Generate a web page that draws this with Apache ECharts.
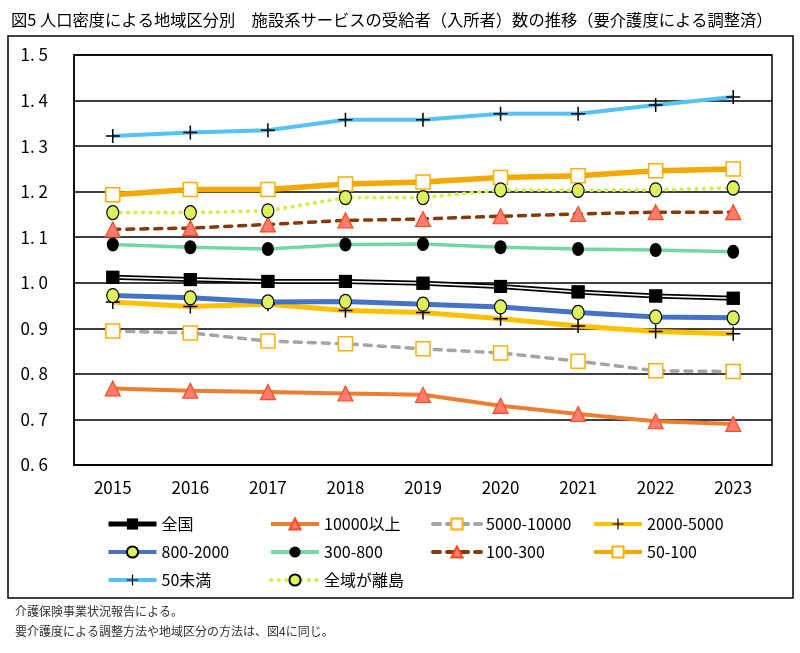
<!DOCTYPE html>
<html lang="ja">
<head>
    <meta charset="utf-8">
    <meta name="viewport" content="width=device-width, initial-scale=1"/>
    <style>
        html, body { margin: 0; padding: 0; background: #fff; }
        #chart { width: 800px; height: 653px; }
    </style>
</head>
<body>
<div id="chart"></div>
<script type="text/javascript" src="https://cdn.jsdelivr.net/npm/echarts@6/dist/echarts.min.js"></script>
<script type="text/javascript">
    // 年
    var years = ['2015', '2016', '2017', '2018', '2019', '2020', '2021', '2022', '2023'];

    // 人口密度区分ごとの受給者数（全国平均=1 相当、図から読み取り）
    var zenkoku   = [1.012, 1.007, 1.003, 1.003, 0.999, 0.992, 0.980, 0.971, 0.966];
    var d10000    = [0.768, 0.763, 0.760, 0.757, 0.754, 0.730, 0.712, 0.696, 0.690];
    var d5000     = [0.894, 0.890, 0.872, 0.866, 0.855, 0.846, 0.828, 0.807, 0.805];
    var d2000     = [0.958, 0.948, 0.953, 0.939, 0.935, 0.921, 0.905, 0.893, 0.888];
    var d800      = [0.972, 0.967, 0.958, 0.959, 0.953, 0.947, 0.935, 0.925, 0.923];
    var d300      = [1.084, 1.078, 1.074, 1.084, 1.085, 1.078, 1.074, 1.072, 1.068];
    var d100      = [1.117, 1.120, 1.128, 1.137, 1.140, 1.146, 1.151, 1.155, 1.155];
    var d50       = [1.193, 1.205, 1.205, 1.217, 1.221, 1.231, 1.235, 1.246, 1.250];
    var dUnder50  = [1.322, 1.330, 1.335, 1.358, 1.358, 1.371, 1.371, 1.390, 1.408];
    var ritou     = [1.154, 1.154, 1.158, 1.187, 1.187, 1.204, 1.203, 1.204, 1.208];

    var yTicks = { min: 0.6, max: 1.5, interval: 0.1 };

    var FONT = 'Noto Sans CJK JP';
    var PLUS = 'path://M6.25,0h1.5v6.25h6.25v1.5h-6.25v6.25h-1.5v-6.25h-6.25v-1.5h6.25z';

    function lineSeries(name, data, color, width, type, symbol, size, fill, border, borderWidth) {
        return {
            name: name,
            type: 'line',
            data: data,
            symbol: symbol,
            symbolSize: size,
            showAllSymbol: true,
            lineStyle: { color: color, width: width, type: type, cap: type === 'solid' ? 'butt' : 'round' },
            itemStyle: { color: fill, borderColor: border, borderWidth: borderWidth },
            emphasis: { disabled: true },
            animation: false
        };
    }

    var series = [
        lineSeries('全国', zenkoku, '#000', 5, 'solid', 'rect', 13, '#000', '#000', 0),
        lineSeries('全国_inner', zenkoku, '#fff', 1.5, 'solid', 'rect', 13, '#000', '#000', 0),
        lineSeries('10000以上', d10000, '#ED7D31', 4, 'solid', 'triangle', 15, '#FF7C70', '#FF4A1C', 1.2),
        lineSeries('5000-10000', d5000, '#A5A5A5', 3.5, [7, 7], 'rect', 14, '#fff', '#FFB000', 1.5),
        lineSeries('2000-5000', d2000, '#FFC000', 5, 'solid', PLUS, 14, '#000', '#000', 0),
        lineSeries('800-2000', d800, '#4472C4', 5, 'solid', 'circle', [12, 14], '#DDF25C', '#000', 1.2),
        lineSeries('300-800', d300, '#73D7A4', 3.5, 'solid', 'circle', [12, 14], '#000', '#000', 0),
        lineSeries('100-300', d100, '#843C0C', 3.5, [7, 7], 'triangle', 15, '#FF7C70', '#FF4A1C', 1.2),
        lineSeries('50-100', d50, '#F5A800', 5.5, 'solid', 'rect', 14, '#fff', '#FFB000', 1.5),
        lineSeries('50未満', dUnder50, '#55C1F5', 4, 'solid', PLUS, 14, '#000', '#000', 0),
        lineSeries('全域が離島', ritou, '#D4F04E', 4, [0.5, 7], 'circle', [12, 14], '#DDF25C', '#000', 1.2)
    ];

    function legendCol(left, names) {
        return {
            orient: 'vertical',
            left: left,
            top: 510,
            data: names.map(function (n) {
                return n === '全国' ? { name: n, lineStyle: { width: 5 } } : n;
            }),
            itemWidth: 48,
            itemHeight: 14,
            itemGap: 10,
            selectedMode: false,
            lineStyle: { width: 4 },
            textStyle: { fontFamily: FONT, fontSize: 16, lineHeight: 18, color: '#000' }
        };
    }

    var option = {
        backgroundColor: '#fff',
        animation: false,
        textStyle: { fontFamily: FONT },
        title: {
            text: '図5 人口密度による地域区分別　施設系サービスの受給者（入所者）数の推移（要介護度による調整済）',
            left: 6,
            top: 7,
            textStyle: { fontFamily: FONT, fontSize: 16.3, fontWeight: 'normal', color: '#000' }
        },
        grid: {
            left: 74, right: 28, top: 55, bottom: 188,
            show: true, borderColor: '#000', borderWidth: 1.5
        },
        legend: [
            legendCol(101, ['全国', '800-2000', '50未満']),
            legendCol(264, ['10000以上', '300-800', '全域が離島']),
            legendCol(426, ['5000-10000', '100-300']),
            legendCol(587, ['2000-5000', '50-100'])
        ],
        xAxis: {
            type: 'category',
            data: years,
            boundaryGap: true,
            axisLine: { lineStyle: { color: '#000', width: 1.5 } },
            axisTick: { show: false },
            axisLabel: { fontFamily: FONT, fontSize: 17, color: '#000', margin: 14 }
        },
        yAxis: {
            type: 'value',
            min: yTicks.min,
            max: yTicks.max,
            interval: yTicks.interval,
            axisLine: { show: true, lineStyle: { color: '#000', width: 1.5 } },
            axisTick: { show: false },
            splitLine: { lineStyle: { color: '#000', width: 1.5 } },
            axisLabel: {
                fontFamily: FONT, fontSize: 17, color: '#000', margin: 26,
                formatter: function (v) { return v.toFixed(1).replace('.', '. '); }
            }
        },
        graphic: [
            {
                type: 'rect',
                shape: { x: 8, y: 36, width: 785, height: 562 },
                style: { fill: 'none', stroke: '#000', lineWidth: 1.5 },
                silent: true
            },
            {
                type: 'text', left: 15, top: 605,
                style: { text: '介護保険事業状況報告による。', fontFamily: FONT, fontSize: 12, fill: '#333' }
            },
            {
                type: 'text', left: 15, top: 625,
                style: { text: '要介護度による調整方法や地域区分の方法は、図4に同じ。', fontFamily: FONT, fontSize: 12, fill: '#333' }
            }
        ],
        series: series
    };

    var myChart = echarts.init(document.getElementById('chart'));
    myChart.setOption(option);
</script>
</body>
</html>
